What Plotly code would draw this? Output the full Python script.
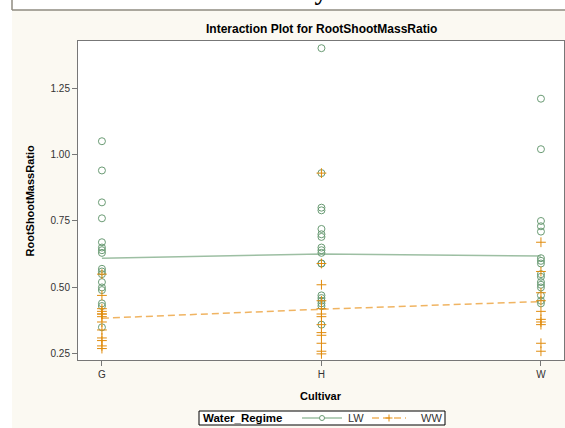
import plotly.graph_objects as go

cultivars = ["G", "H", "W"]

lw_G = [1.05, 0.94, 0.82, 0.76, 0.67, 0.65, 0.64, 0.63, 0.57, 0.56, 0.55, 0.52, 0.50, 0.49, 0.44, 0.43, 0.35]
lw_H = [1.40, 0.93, 0.80, 0.79, 0.72, 0.70, 0.69, 0.65, 0.64, 0.63, 0.59, 0.59, 0.47, 0.46, 0.45, 0.44, 0.43, 0.36]
lw_W = [1.21, 1.02, 0.75, 0.73, 0.71, 0.61, 0.60, 0.59, 0.55, 0.54, 0.52, 0.51, 0.50, 0.47, 0.45, 0.44]

ww_G = [0.55, 0.47, 0.42, 0.41, 0.40, 0.40, 0.39, 0.37, 0.34, 0.31, 0.30, 0.28, 0.27]
ww_H = [0.93, 0.59, 0.51, 0.45, 0.42, 0.40, 0.39, 0.36, 0.33, 0.32, 0.29, 0.26, 0.25]
ww_W = [0.67, 0.56, 0.48, 0.45, 0.41, 0.38, 0.37, 0.36, 0.29, 0.26]

# group means (interaction lines)
lw_mean = [0.610, 0.626, 0.618]
ww_mean = [0.384, 0.418, 0.447]

y_ticks = [0.25, 0.50, 0.75, 1.00, 1.25]

GREEN = "#6a9b74"
GREEN_LINE = "#9dbfa3"
ORANGE = "#e08b0c"
ORANGE_LINE = "#f0b462"
FONT = "Liberation Sans, Arial, sans-serif"

def flat(groups):
    xs, ys = [], []
    for c, vals in zip(cultivars, groups):
        xs += [c] * len(vals)
        ys += vals
    return xs, ys

lw_x, lw_y = flat([lw_G, lw_H, lw_W])
ww_x, ww_y = flat([ww_G, ww_H, ww_W])

fig = go.Figure()
fig.add_trace(go.Scatter(x=cultivars, y=lw_mean, mode="lines", name="LW mean",
                         line=dict(color=GREEN_LINE, width=1.5), showlegend=False))
fig.add_trace(go.Scatter(x=cultivars, y=ww_mean, mode="lines", name="WW mean",
                         line=dict(color=ORANGE_LINE, width=1.5, dash="7px,4px"), showlegend=False))
fig.add_trace(go.Scatter(x=lw_x, y=lw_y, mode="markers", name="LW", showlegend=False,
                         marker=dict(symbol="circle-open", size=7, color=GREEN, line=dict(width=1, color=GREEN))))
fig.add_trace(go.Scatter(x=ww_x, y=ww_y, mode="markers", name="WW", showlegend=False,
                         marker=dict(symbol="cross-thin-open", size=7, color=ORANGE, line=dict(width=1, color=ORANGE))))

L, R, T, B = 78, 1, 41, 68
W, H = 565, 428
pw, ph = W - L - R, H - T - B

def px(xpix):
    return (xpix - L) / pw

def py(ypix):
    return (H - B - ypix) / ph

def pline(x0, y0, x1, y1, color, width=1.0, dash=None):
    d = dict(type="line", xref="paper", yref="paper",
             x0=px(x0), x1=px(x1), y0=py(y0), y1=py(y1),
             line=dict(color=color, width=width))
    if dash:
        d["line"]["dash"] = dash
    return d

def ptext(text, x, y, size, color, xanchor="left", bold=False, family=FONT):
    return dict(text=f"<b>{text}</b>" if bold else text, xref="paper", yref="paper",
                x=px(x), y=py(y), xanchor=xanchor, yanchor="middle", showarrow=False,
                font=dict(size=size, color=color, family=family))

LEG_Y = 418
shapes = [
    dict(type="rect", xref="paper", yref="paper", x0=-0.3, x1=px(12), y0=-0.5, y1=1.5,
         fillcolor="white", line=dict(width=0), layer="above"),
    dict(type="rect", xref="paper", yref="paper", x0=-0.3, x1=1.3, y0=py(10), y1=1.5,
         fillcolor="white", line=dict(width=0), layer="above"),
    pline(12, -50, 12, 10, "#8f8b80", 1.5),
    pline(12, 10, 700, 10, "#8f8b80", 1.5),
    # legend box
    dict(type="rect", xref="paper", yref="paper", x0=px(199), x1=px(445), y0=py(425), y1=py(411),
         fillcolor="white", line=dict(color="#000000", width=1)),
    # LW sample
    pline(302, LEG_Y, 342, LEG_Y, GREEN_LINE, 1.5),
    dict(type="circle", xref="paper", yref="paper", x0=px(319.5), x1=px(324.5),
         y0=py(420.5), y1=py(415.5), fillcolor="white", line=dict(color=GREEN, width=1)),
    # WW sample
    pline(372, LEG_Y, 406, LEG_Y, ORANGE_LINE, 1.5, "7px,4px"),
    pline(385.5, LEG_Y, 392.5, LEG_Y, ORANGE, 1),
    pline(389, LEG_Y - 3.5, 389, LEG_Y + 3.5, ORANGE, 1),
]

annotations = [
    ptext("Interaction Plot for RootShootMassRatio", 321, 29, 12, "#000000", "center", True),
    ptext("Cultivar", 321, 396, 11, "#000000", "center", True),
    dict(text="<b>RootShootMassRatio</b>", xref="paper", yref="paper",
         x=px(29), y=0.5, xanchor="center", yanchor="middle", textangle=-90, showarrow=False,
         font=dict(size=11, color="#000000", family=FONT)),
    dict(text="<b>Root to Shoot Dry Mass Ratio</b>", xref="paper", yref="paper",
         x=px(292), y=py(7.5), xanchor="center", yanchor="bottom", showarrow=False,
         font=dict(size=26, color="#000000", family="Liberation Serif, Times New Roman, serif")),
    ptext("Water_Regime", 201, LEG_Y, 11.5, "#000000", "left", True),
    ptext("LW", 346, LEG_Y, 11, "#333333", "left"),
    ptext("WW", 419, LEG_Y, 11, "#333333", "left"),
]

fig.update_layout(
    width=W, height=H,
    margin=dict(l=L, r=R, t=T, b=B),
    paper_bgcolor="#fbf9f2",
    plot_bgcolor="white",
    showlegend=False,
    font=dict(family=FONT, size=10, color="#333333"),
    xaxis=dict(type="category", categoryorder="array", categoryarray=cultivars,
               range=[-0.109, 2.105], showgrid=False, zeroline=False,
               showline=True, mirror=True, linecolor="#777777", linewidth=1,
               ticks="outside", ticklen=5, tickcolor="#777777",
               tickfont=dict(size=10, color="#333333")),
    yaxis=dict(range=[0.227, 1.427], tickvals=y_ticks, tickformat=".2f",
               showgrid=False, zeroline=False,
               showline=True, mirror=True, linecolor="#777777", linewidth=1,
               ticks="outside", ticklen=5, tickcolor="#777777",
               tickfont=dict(size=10, color="#333333")),
    shapes=shapes,
    annotations=annotations,
)

fig.write_html("out.html", config={"displayModeBar": False},
               post_script="document.body.style.margin='0';document.body.style.overflow='hidden';")
